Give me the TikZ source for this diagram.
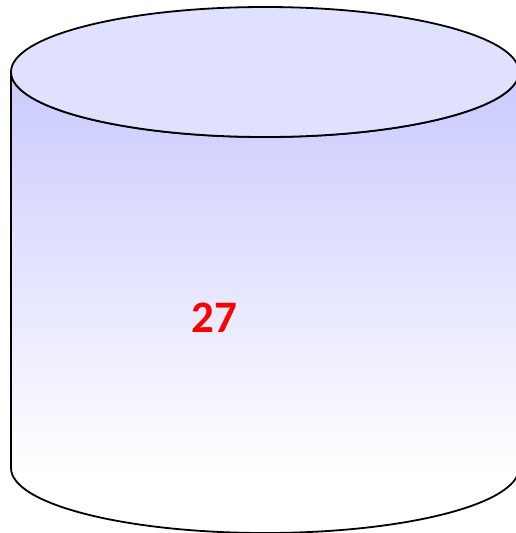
\documentclass[tikz,border=0pt]{standalone}
\usepackage{fontspec}
\newfontfamily\labelfont{Carlito}
\definecolor{topfill}{RGB}{224,224,255}
\definecolor{bodytop}{RGB}{204,204,255}
\tikzset{
  outline/.style={draw=black, line width=1.8pt},
  numlabel/.style={text=red, font=\labelfont\bfseries\fontsize{45}{54}\selectfont, inner sep=0pt}
}
\begin{document}
\begin{tikzpicture}[x=1pt,y=1pt]
\useasboundingbox (0,0) rectangle (516,-533);
\def\bodypath{(11,-72) -- (11,-468)
  arc[start angle=180, end angle=360, x radius=254, y radius=65]
  -- (519,-72)
  arc[start angle=0, end angle=-180, x radius=254, y radius=65] -- cycle}
\begin{scope}
  \clip \bodypath;
  \fill[white] (0,0) rectangle (530,-540);
  \fill[bodytop] (0,0) rectangle (530,-90);
  \shade[top color=bodytop, bottom color=white] (0,-90) rectangle (530,-475);
\end{scope}
\draw[outline] \bodypath;
\draw[outline, fill=topfill] (265,-72) ellipse[x radius=254, y radius=65];
\node[numlabel] (num) at (214.5,-317.5) {27};
\end{tikzpicture}
\end{document}
